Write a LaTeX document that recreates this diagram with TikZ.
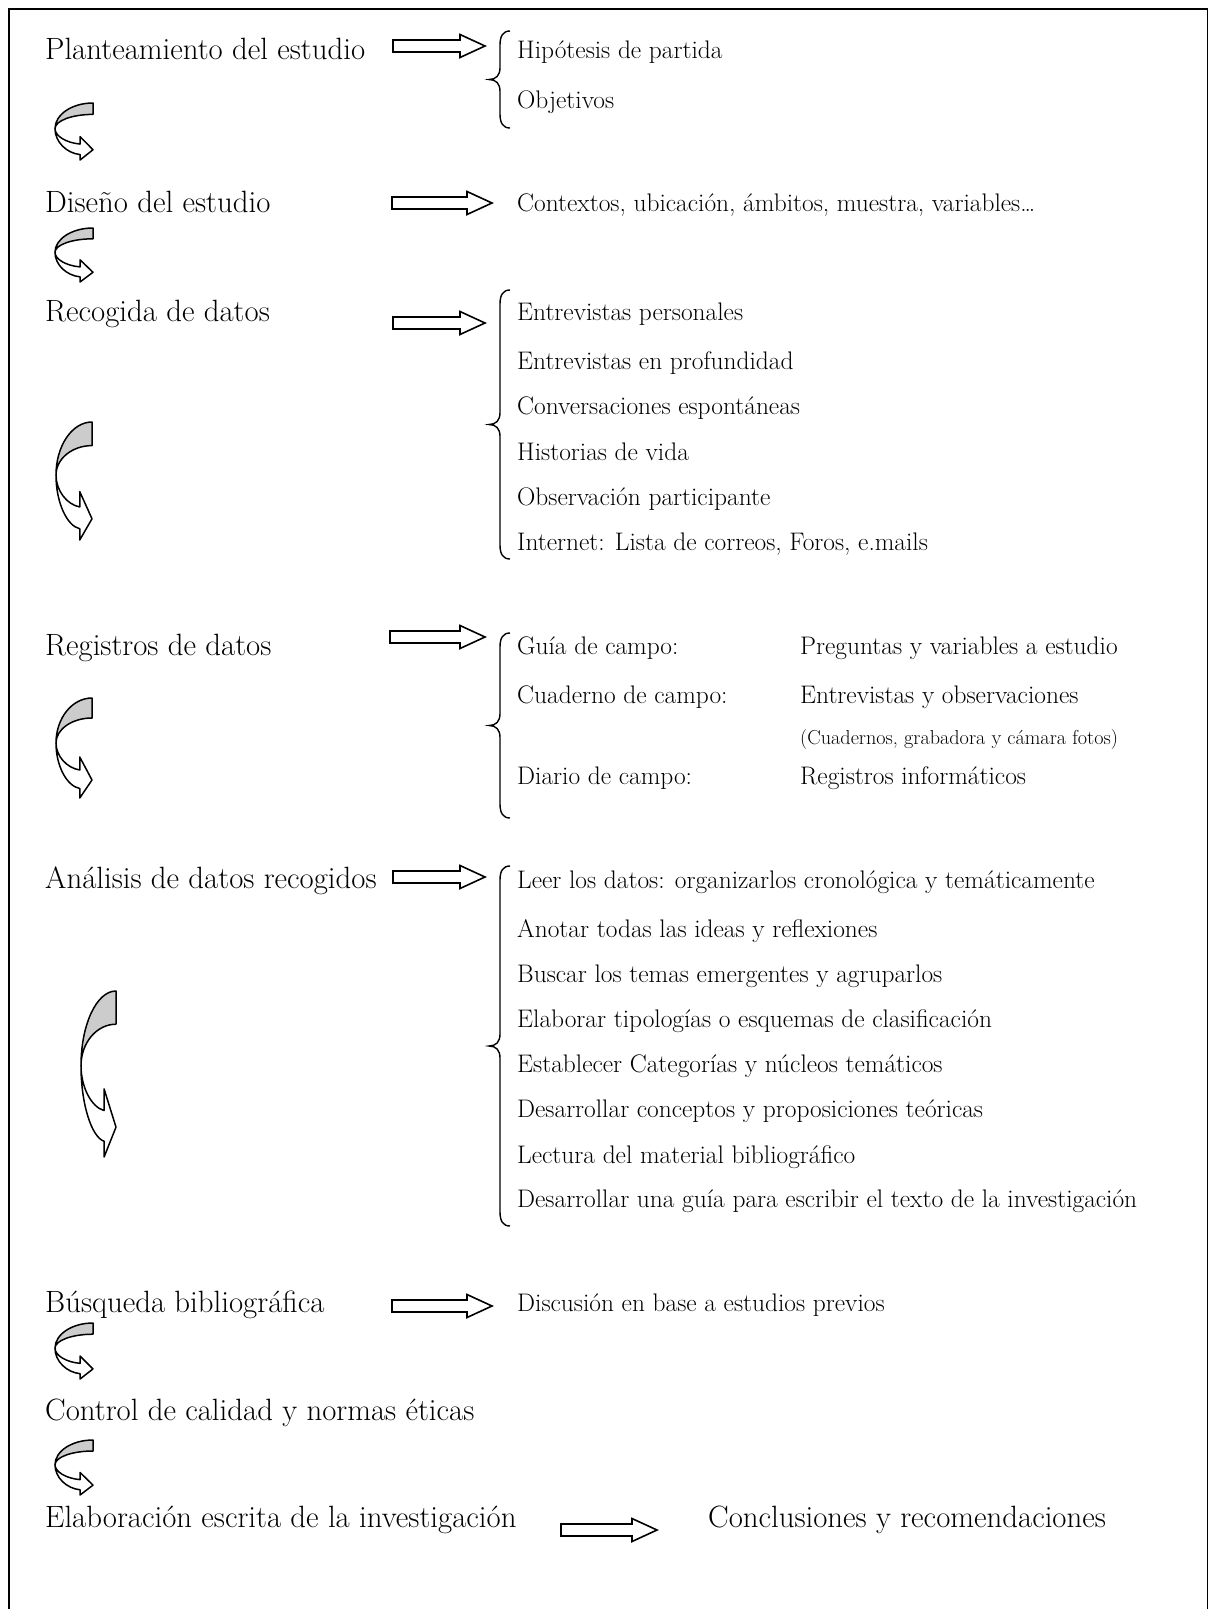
\documentclass[tikz,border=0pt]{standalone}
\usepackage{fontspec}
\usetikzlibrary{calc}
\definecolor{shadegray}{RGB}{204,204,204}
\tikzset{
  lbl/.style={anchor=base west, inner sep=0pt, font=\fontsize{30.8}{36}\selectfont},
  itm/.style={anchor=base west, inner sep=0pt, font=\fontsize{25.4}{30}\selectfont},
  sml/.style={anchor=base west, inner sep=0pt, font=\fontsize{20.2}{24}\selectfont},
  blockarrow/.style={draw=black, line width=1.6pt, fill=white, line join=miter},
  bracestyle/.style={draw=black, line width=1.4pt},
  curvline/.style={draw=black, line width=1.5pt, line join=round},
  framestyle/.style={draw=black, line width=1.6pt},
}
\newcommand\blockarr[2]{%
  \draw[blockarrow] (#1) ++(0,-6) -- ++(#2-25,0) -- ++(0,-5.5) -- ++(25,11.5)
    -- ++(-25,11.5) -- ++(0,-5.5) -- ++(-#2+25,0) -- cycle;}
\newcommand\drawbrace[2]{%
  \pgfmathsetmacro\bm{(#1+#2)/2}%
  \draw[bracestyle] (510,#1) .. controls (503,#1) and (500,#1+5) .. (500,#1+14)
    -- (500,\bm-12) .. controls (500,\bm-4) and (496,\bm) .. (489,\bm)
    .. controls (496,\bm) and (500,\bm+4) .. (500,\bm+12)
    -- (500,#2-14) .. controls (500,#2-5) and (503,#2) .. (510,#2);}
\newcommand\curvarrow[4]{%
  \begin{scope}[shift={(#1,#2)}, x=#3pt, y=-#4pt]
    \filldraw[curvline, fill=shadegray] (1,0) .. controls (0.4477,0) and (0,0.2015) .. (0,0.45)
      .. controls (0,0.312) and (0.4477,0.2) .. (1,0.2) -- cycle;
    \filldraw[curvline, fill=white] (0,0.45) .. controls (0,0.68) and (0.3,0.88) .. (0.66,0.905)
      -- (0.66,1) -- (1,0.82) -- (0.66,0.59) -- (0.66,0.72)
      .. controls (0.3,0.7) and (0,0.58) .. (0,0.45) -- cycle;
  \end{scope}}
\begin{document}
\begin{tikzpicture}[x=1pt, y=-1pt]
\useasboundingbox (0,0) rectangle (1209,1609);
\fill[white] (0,0) rectangle (1209,1609);
\draw[framestyle] (9,1615) -- (9,9) -- (1207.5,9) -- (1207.5,1615);

% left labels
\node[lbl] (n1) at (45,59.5) {Planteamiento del estudio};
\node[lbl] (n2) at (45,212.5) {Diseño del estudio};
\node[lbl] (n3) at (45,321.5) {Recogida de datos};
\node[lbl] (n4) at (45,655.5) {Registros de datos};
\node[lbl] (n5) at (45,888.5) {Análisis de datos recogidos};
\node[lbl] (n6) at (45,1312.5) {Búsqueda bibliográfica};
\node[lbl] (n7) at (45,1420.5) {Control de calidad y normas éticas};
\node[lbl] (n8) at (45,1527) {Elaboración escrita de la investigación};

% right items
\node[itm] (r1a) at (517,58) {Hipótesis de partida};
\node[itm] (r1b) at (517,108) {Objetivos};
\node[itm] (r2a) at (517,211) {Contextos, ubicación, ámbitos, muestra, variables…};
\node[itm] (r3a) at (517,320) {Entrevistas personales};
\node[itm] (r3b) at (517,369) {Entrevistas en profundidad};
\node[itm] (r3c) at (517,414) {Conversaciones espontáneas};
\node[itm] (r3d) at (517,460) {Historias de vida};
\node[itm] (r3e) at (517,505) {Observación participante};
\node[itm] (r3f) at (517,550) {Internet: Lista de correos, Foros, e.mails};
\node[itm] (r4a) at (517,654) {Guía de campo:};
\node[itm] (r4b) at (800,654) {Preguntas y variables a estudio};
\node[itm] (r4c) at (517,703) {Cuaderno de campo:};
\node[itm] (r4d) at (800,703) {Entrevistas y observaciones};
\node[sml] (r4e) at (800,744) {(Cuadernos, grabadora y cámara fotos)};
\node[itm] (r4f) at (517,784) {Diario de campo:};
\node[itm] (r4g) at (800,784) {Registros informáticos};
\node[itm] (r5a) at (517,888) {Leer los datos: organizarlos cronológica y temáticamente};
\node[itm] (r5b) at (517,937) {Anotar todas las ideas y reflexiones};
\node[itm] (r5c) at (517,982) {Buscar los temas emergentes y agruparlos};
\node[itm] (r5d) at (517,1027) {Elaborar tipologías o esquemas de clasificación};
\node[itm] (r5e) at (517,1072) {Establecer Categorías y núcleos temáticos};
\node[itm] (r5f) at (517,1117) {Desarrollar conceptos y proposiciones teóricas};
\node[itm] (r5g) at (517,1163) {Lectura del material bibliográfico};
\node[itm] (r5h) at (517,1207) {Desarrollar una guía para escribir el texto de la investigación};
\node[itm] (r6a) at (517,1311) {Discusión en base a estudios previos};
\node[lbl] (r8a) at (708,1527) {Conclusiones y recomendaciones};

% block arrows
\coordinate (a1) at (393,46);
\coordinate (a2) at (392,203);
\coordinate (a3) at (393,323);
\coordinate (a4) at (390,637);
\coordinate (a5) at (393,877);
\coordinate (a6) at (392,1306);
\coordinate (a8) at (561,1530);
\blockarr{a1}{92}
\blockarr{a2}{100}
\blockarr{a3}{92}
\blockarr{a4}{95}
\blockarr{a5}{92}
\blockarr{a6}{100}
\blockarr{a8}{96}

% braces
\drawbrace{31}{128}
\drawbrace{290}{559}
\drawbrace{633}{818}
\drawbrace{866}{1226}

% curved arrows
\curvarrow{55}{103}{38}{57}
\curvarrow{55}{228}{38}{54}
\curvarrow{56}{422}{36}{118}
\curvarrow{56}{698}{36}{100}
\curvarrow{81}{991}{35}{166}
\curvarrow{55}{1323}{38}{56}
\curvarrow{55}{1440}{38}{55}
\end{tikzpicture}
\end{document}
